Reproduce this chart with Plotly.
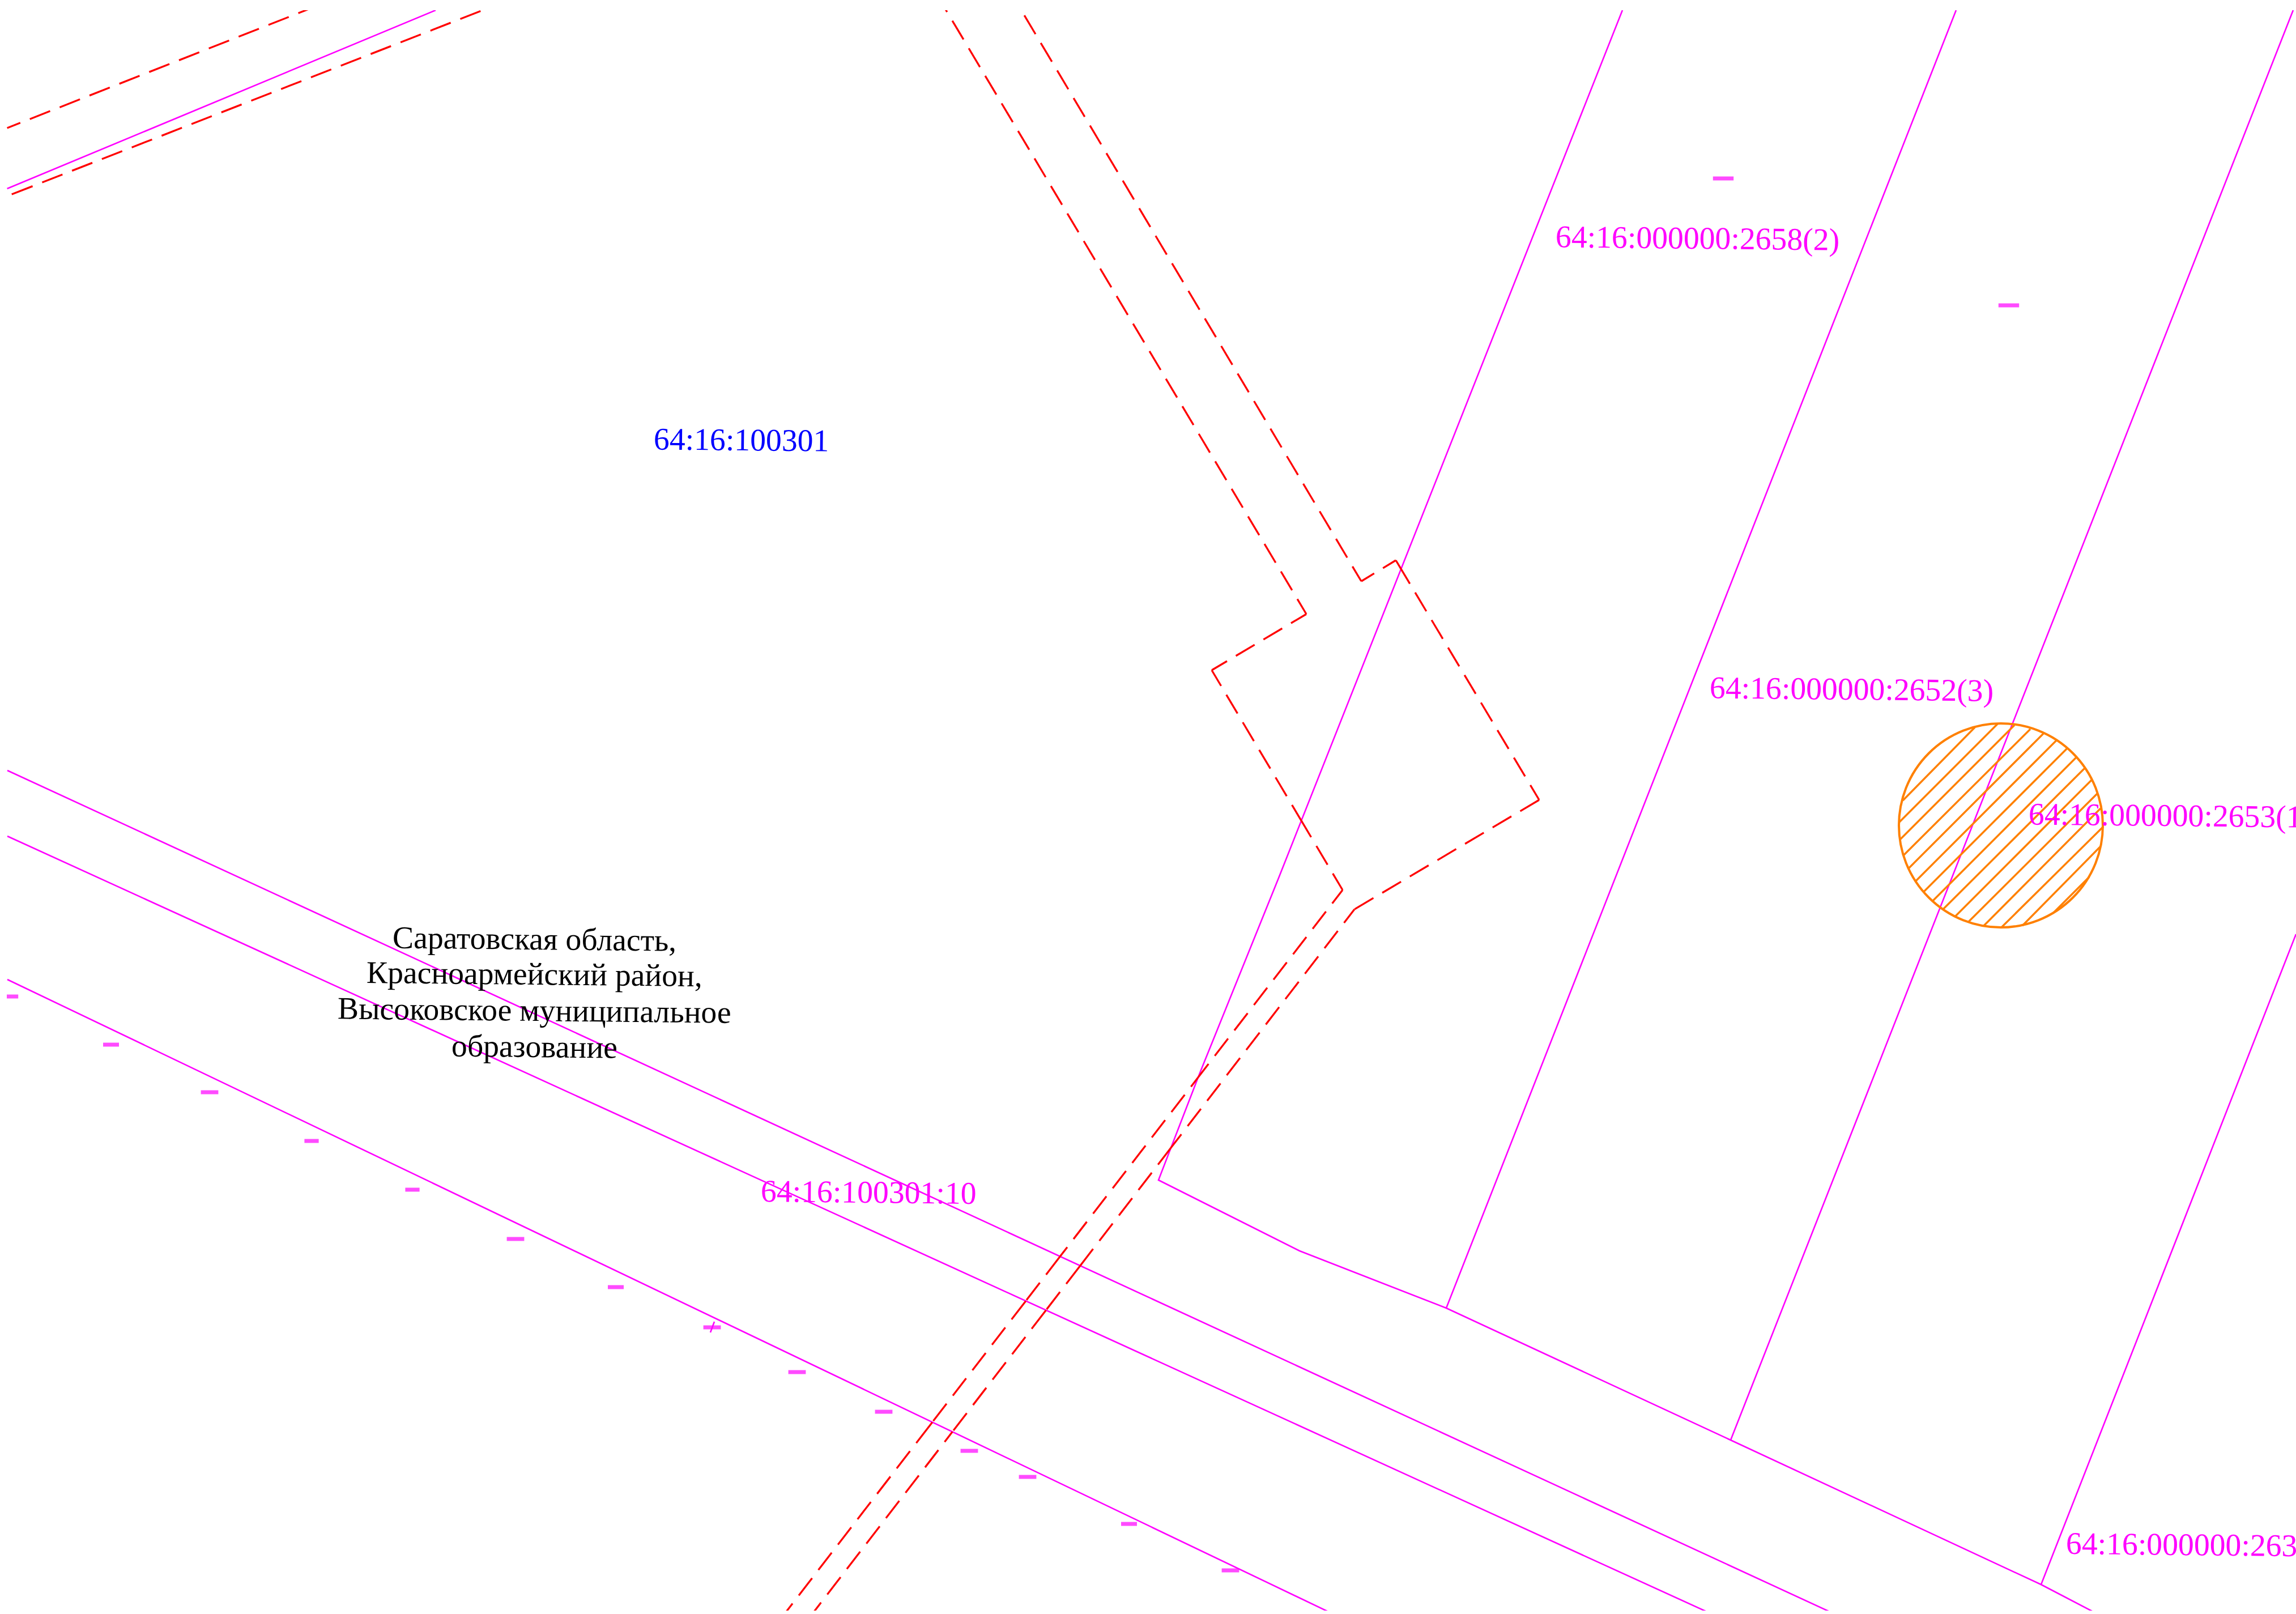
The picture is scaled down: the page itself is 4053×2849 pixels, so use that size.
import math
import plotly.graph_objects as go

WIDTH, HEIGHT = 4053, 2849
X_RANGE = [12, 4053]
Y_RANGE = [2843, 18]

MAGENTA = "#ff00ff"
RED = "#ff0000"
ORANGE = "#ff8000"
BLUE = "#0000ff"

# Parcel and road boundaries (map coordinates)
ROAD_1 = [(13, 1360), (3230, 2845)]
ROAD_2 = [(13, 1476), (3013, 2845)]
ROAD_3 = [(13, 1729), (2345, 2845)]
TOP_LEFT = [(12.6, 333), (769, 18)]
PARCEL_MAIN = [(2864, 18), (2257, 1550), (2118, 1894), (2045, 2083), (2294, 2208),
               (2553, 2309), (3055, 2542), (3603, 2797), (3695, 2845)]
PARCEL_2 = [(3453, 18), (2553, 2309)]
PARCEL_3 = [(4048, 18), (3055, 2542)]
PARCEL_4 = [(4053, 1649), (3603, 2797)]
SMALL_TICK = [(1261, 2333), (1254, 2352)]
MAGENTA_LINES = [ROAD_1, ROAD_2, ROAD_3, TOP_LEFT, PARCEL_MAIN, PARCEL_2, PARCEL_3, PARCEL_4]

# Red dashed boundaries: nodes, and the first dash length at an open end
RED_A = [(1664, 8), (2306, 1084), (2139, 1183), (2370, 1571), (1384, 2850)]
RED_B = [(1798, 10), (2403, 1026), (2464, 989), (2717, 1412), (2391, 1605), (1433, 2850)]
RED_C = [(12.6, 226), (545, 16)]
RED_D = [(20.7, 343), (860, 15)]
RED_CHAINS = [
    (RED_A, 31, 46.5),
    (RED_B, 30.5, 22.6),
    (RED_C, None, 25),
    (RED_D, None, 39.6),
]
DASH, GAP = 38.5, 18.1

# Short ticks beside the boundaries
MARK_X = [21, 196, 370, 550, 728, 910, 1087, 1257, 1407, 1560, 1711, 1814, 1993, 2172, 3042, 3546]
MARK_Y = [1759, 1844, 1928, 2014, 2100, 2187, 2272, 2343, 2422, 2492, 2561, 2607, 2690, 2772, 315, 539]
MARK_W = [16, 20, 22, 18, 18, 22, 20, 22, 22, 22, 22, 22, 20, 22, 26, 26]

# Hatched circle
CIRCLE_X, CIRCLE_Y, CIRCLE_R = 3532, 1457, 180
HATCH_X0 = [3359, 3353, 3354, 3361, 3369, 3382, 3396, 3411, 3430, 3452, 3475, 3502, 3533, 3570, 3624]
HATCH_Y0 = [1413, 1451, 1482, 1509, 1533, 1555, 1574, 1591, 1605, 1617, 1627, 1634, 1637, 1634, 1612]
HATCH_X1 = [3486, 3526, 3556, 3584, 3607, 3630, 3649, 3665, 3681, 3693, 3703, 3708, 3713, 3707, 3688]
HATCH_Y1 = [1284, 1278, 1280, 1287, 1295, 1307, 1321, 1337, 1355, 1376, 1400, 1427, 1459, 1495, 1548]

# Labels
LABEL_TEXT = ["64:16:000000:2658(2)", "64:16:000000:2652(3)", "64:16:000000:2653(1",
              "64:16:000000:263", "64:16:100301", "64:16:100301:10"]
LABEL_X = [2744, 3016, 3579, 3645, 1152, 1341]
LABEL_Y = [420, 1216, 1439, 2726, 776, 2104]
LABEL_COLOR = [MAGENTA, MAGENTA, MAGENTA, MAGENTA, BLUE, MAGENTA]
PLACE_TEXT = ["Саратовская область,", "Красноармейский район,",
              "Высоковское муниципальное", "образование"]
PLACE_X = [943, 943, 943, 943]
PLACE_Y = [1657, 1719, 1783, 1847]
FONT = "Liberation Serif"
FONT_SIZE = 55.7
TILT = 0.6


def crossing(p, q, a, b):
    dx1, dy1 = q[0] - p[0], q[1] - p[1]
    dx2, dy2 = b[0] - a[0], b[1] - a[1]
    den = dx1 * dy2 - dy1 * dx2
    if abs(den) < 1e-9:
        return None
    t = ((a[0] - p[0]) * dy2 - (a[1] - p[1]) * dx2) / den
    u = ((a[0] - p[0]) * dy1 - (a[1] - p[1]) * dx1) / den
    if 0 < t < 1 and 0 <= u <= 1:
        return t
    return None


def split_chain(nodes):
    out = []
    for p, q in zip(nodes, nodes[1:]):
        ts = []
        for line in MAGENTA_LINES:
            for a, b in zip(line, line[1:]):
                t = crossing(p, q, a, b)
                if t is not None:
                    ts.append(t)
        pts = [p] + [(p[0] + t * (q[0] - p[0]), p[1] + t * (q[1] - p[1])) for t in sorted(ts)] + [q]
        out.extend(zip(pts, pts[1:]))
    return out


def walk(p, q, first):
    """Dashes from p towards q, the first one being `first` long."""
    L = math.dist(p, q)
    ux, uy = (q[0] - p[0]) / L, (q[1] - p[1]) / L
    spans = [(0, min(first, L))]
    s = first + GAP
    while s < L:
        spans.append((s, min(s + DASH, L)))
        s += DASH + GAP
    return [((p[0] + ux * a, p[1] + uy * a), (p[0] + ux * b, p[1] + uy * b)) for a, b in spans]


def fitted(p, q):
    """A closed span starts and ends on a dash, as a CAD line type does."""
    L = math.dist(p, q)
    if L < DASH + GAP:
        return [(p, q)]
    n = math.floor((L - DASH - GAP) / (DASH + GAP))
    return walk(p, q, (L - GAP - n * (DASH + GAP)) / 2)


red_x, red_y = [], []
for nodes, open_start, open_end in RED_CHAINS:
    segs = split_chain(nodes)
    for i, (p, q) in enumerate(segs):
        if i == len(segs) - 1 and open_end is not None:
            pieces = walk(p, q, open_end)
        elif i == 0 and open_start is not None:
            pieces = walk(q, p, open_start)
        else:
            pieces = fitted(p, q)
        for a, b in pieces:
            red_x += [a[0], b[0], None]
            red_y += [a[1], b[1], None]

fig = go.Figure()

for line in MAGENTA_LINES + [SMALL_TICK]:
    fig.add_trace(go.Scatter(x=[p[0] for p in line], y=[p[1] for p in line], mode="lines",
                             line=dict(color=MAGENTA, width=2.6), hoverinfo="skip"))

fig.add_trace(go.Scatter(x=red_x, y=red_y, mode="lines", connectgaps=False,
                         line=dict(color=RED, width=3.3), hoverinfo="skip"))

hatch_x, hatch_y = [], []
for x0, y0, x1, y1 in zip(HATCH_X0, HATCH_Y0, HATCH_X1, HATCH_Y1):
    hatch_x += [x0, x1, None]
    hatch_y += [y0, y1, None]
fig.add_trace(go.Scatter(x=hatch_x, y=hatch_y, mode="lines", connectgaps=False,
                         line=dict(color=ORANGE, width=3.4), hoverinfo="skip"))

fig.add_trace(go.Scatter(x=MARK_X, y=MARK_Y, mode="markers", hoverinfo="skip",
                         marker=dict(symbol="line-ew", size=MARK_W,
                                     color=MAGENTA, line=dict(color=MAGENTA, width=7))))

fig.add_shape(type="circle", xref="x", yref="y",
              x0=CIRCLE_X - CIRCLE_R, x1=CIRCLE_X + CIRCLE_R,
              y0=CIRCLE_Y - CIRCLE_R, y1=CIRCLE_Y + CIRCLE_R,
              line=dict(color=ORANGE, width=4), fillcolor="rgba(0,0,0,0)")

for t, x, y, c in zip(LABEL_TEXT, LABEL_X, LABEL_Y, LABEL_COLOR):
    fig.add_annotation(x=x, y=y, text=t, showarrow=False, xanchor="left", yanchor="middle",
                       textangle=TILT, font=dict(family=FONT, size=FONT_SIZE, color=c))
for t, x, y in zip(PLACE_TEXT, PLACE_X, PLACE_Y):
    fig.add_annotation(x=x, y=y, text=t, showarrow=False, xanchor="center", yanchor="middle",
                       textangle=TILT, font=dict(family=FONT, size=FONT_SIZE, color="#000000"))

axis = dict(visible=False, showgrid=False, zeroline=False, fixedrange=True)
fig.update_layout(
    width=WIDTH, height=HEIGHT, showlegend=False,
    paper_bgcolor="#ffffff", plot_bgcolor="#ffffff",
    margin=dict(l=X_RANGE[0], r=WIDTH - X_RANGE[1], t=Y_RANGE[1], b=HEIGHT - Y_RANGE[0], pad=0),
    xaxis=dict(range=X_RANGE, **axis),
    yaxis=dict(range=Y_RANGE, **axis),
)
fig.write_html("out.html", config={"displayModeBar": False, "responsive": False},
               post_script="document.body.style.margin='0';")
